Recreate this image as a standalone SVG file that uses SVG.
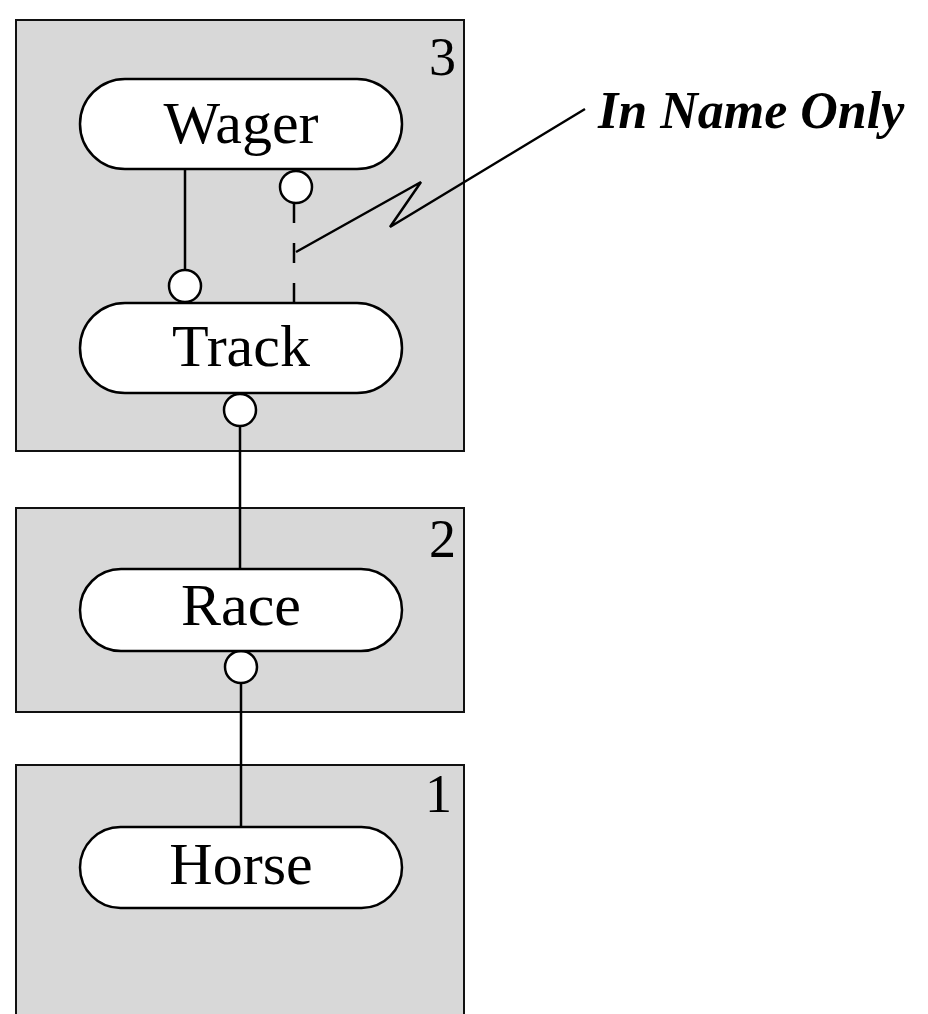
<svg xmlns="http://www.w3.org/2000/svg" width="928" height="1014" viewBox="0 0 928 1014">
<style>
.box{fill:#d8d8d8;stroke:#111;stroke-width:2}
.pill{fill:#fff;stroke:#000;stroke-width:2.5}
.lbl{font-family:"Liberation Serif",serif;font-size:60px;text-anchor:middle;fill:#000}
.num{font-family:"Liberation Serif",serif;font-size:54px;text-anchor:end;fill:#000}
.ln{stroke:#000;stroke-width:2.5;fill:none}
.dash{stroke:#000;stroke-width:2.5;fill:none;stroke-dasharray:20 20}
.circ{fill:#fff;stroke:#000;stroke-width:2.5}
.note{font-family:"Liberation Serif",serif;font-size:52px;font-style:italic;font-weight:bold;fill:#000}
</style>
<rect x="0" y="0" width="928" height="1014" fill="#fff"/>
<g id="level3"><rect class="box" x="16" y="20" width="448" height="431"/><text class="num" x="456" y="75">3</text></g>
<g id="level2"><rect class="box" x="16" y="508" width="448" height="204"/><text class="num" x="456" y="557">2</text></g>
<g id="level1"><rect class="box" x="16" y="765" width="448" height="260"/><text class="num" x="452" y="812">1</text></g>
<g id="connectors">
<line class="ln" x1="185" y1="170" x2="185" y2="269"/>
<line class="dash" x1="294" y1="203" x2="294" y2="303"/>
<line class="ln" x1="240" y1="426" x2="240" y2="569"/>
<line class="ln" x1="241" y1="683" x2="241" y2="827"/>
<circle class="circ" cx="296" cy="187" r="16"/>
<circle class="circ" cx="185" cy="286" r="16"/>
<circle class="circ" cx="240" cy="410" r="16"/>
<circle class="circ" cx="241" cy="667" r="16"/>
</g>
<g id="wager"><rect class="pill" x="80" y="79" width="322" height="90" rx="45"/><text class="lbl" x="241" y="143">Wager</text></g>
<g id="track"><rect class="pill" x="80" y="303" width="322" height="90" rx="45"/><text class="lbl" x="241" y="366">Track</text></g>
<g id="race"><rect class="pill" x="80" y="569" width="322" height="82" rx="41"/><text class="lbl" x="241" y="625">Race</text></g>
<g id="horse"><rect class="pill" x="80" y="827" width="322" height="81" rx="40.5"/><text class="lbl" x="241" y="884">Horse</text></g>
<g id="note">
<polyline class="ln" stroke-width="2" points="585,109 390,227 421,182 296,252"/>
<text class="note" x="598" y="128">In Name Only</text>
</g>
</svg>
